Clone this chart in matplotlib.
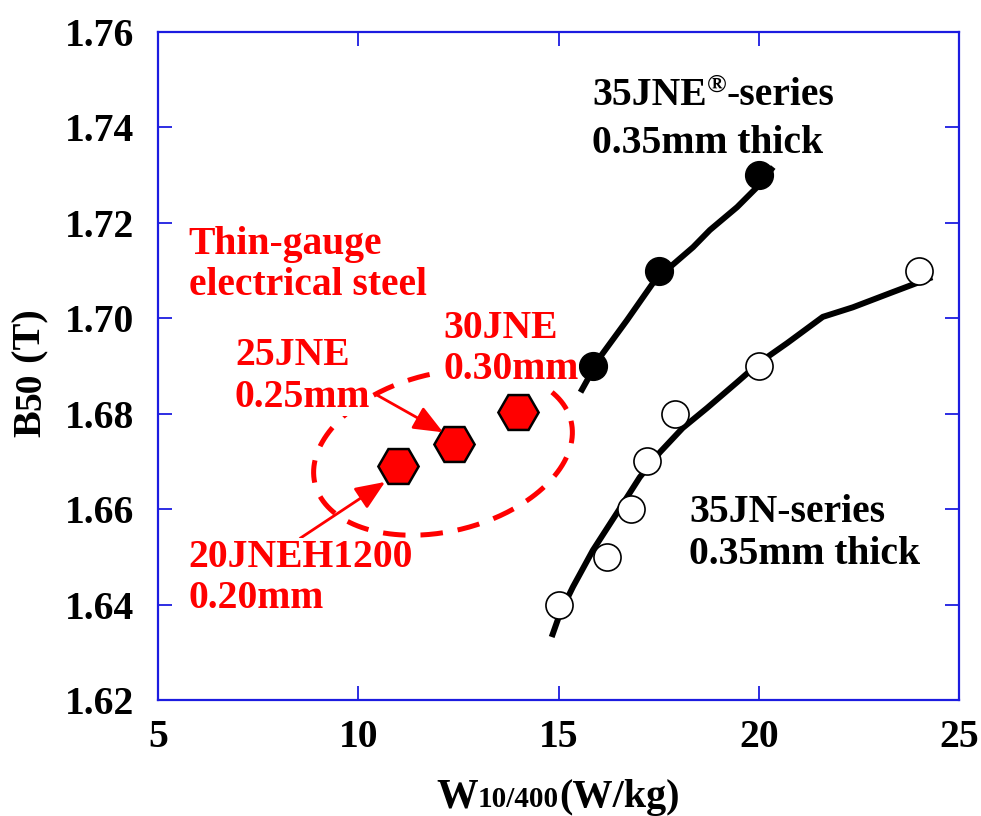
import matplotlib
matplotlib.use('Agg')
import matplotlib.pyplot as plt
import numpy as np

# ---------------- data ----------------
jne_w = [15.85, 17.5, 20.0]
jne_b = [1.690, 1.710, 1.730]
jn_w = [15.0, 16.2, 16.8, 17.2, 17.9, 20.0, 24.0]
jn_b = [1.640, 1.650, 1.660, 1.670, 1.680, 1.690, 1.710]
thin_w = [11.0, 12.4, 14.0]
thin_b = [1.669, 1.6736, 1.6803]

jne_fit_w = [15.55, 16.04, 16.71, 17.36, 17.78, 18.36, 18.78, 19.46, 19.96, 20.36]
jne_fit_b = [1.6845, 1.6919, 1.6996, 1.7074, 1.7107, 1.7149, 1.7185, 1.7233, 1.7275, 1.7317]
jn_fit_w = [14.83, 15.04, 15.36, 15.86, 16.46, 17.03, 17.53, 18.10, 18.71, 19.46,
            20.03, 20.71, 21.60, 22.35, 23.35, 24.33]
jn_fit_b = [1.6332, 1.6382, 1.6437, 1.6514, 1.6592, 1.6667, 1.6719, 1.6770, 1.6812,
            1.6866, 1.6908, 1.6948, 1.7003, 1.7023, 1.7055, 1.7086]

x_ticks = [5, 10, 15, 20, 25]
y_ticks = [1.62, 1.64, 1.66, 1.68, 1.70, 1.72, 1.74, 1.76]

# ---------------- style ----------------
FONT = 'Liberation Serif'
FS = 28.5
BLUE = '#1c1ce0'
RED = '#ff0000'
plt.rcParams['font.family'] = [FONT, 'DejaVu Serif']
plt.rcParams['font.weight'] = 'bold'

W, H = 981, 816
fig = plt.figure(figsize=(W / 100, H / 100), dpi=100)
ax = fig.add_axes([158 / W, 1 - 700 / H, (959 - 158) / W, (700 - 32) / H])

ax.set_xlim(5, 25)
ax.set_ylim(1.62, 1.76)
ax.set_xticks(x_ticks)
ax.set_yticks(y_ticks)
ax.set_xticklabels([str(v) for v in x_ticks])
ax.set_yticklabels(['%.2f' % v for v in y_ticks])
ax.tick_params(axis='both', direction='in', length=10, width=1.3, color=BLUE,
               top=True, right=True, labelsize=FS)
ax.tick_params(axis='y', pad=17)
ax.tick_params(axis='x', pad=14)
for lab in ax.get_xticklabels() + ax.get_yticklabels():
    lab.set_fontweight('bold')
for sp in ax.spines.values():
    sp.set_color(BLUE)
    sp.set_linewidth(1.6)

# fitted curves
ax.plot(jne_fit_w, jne_fit_b, color='black', lw=4.3, solid_capstyle='butt',
        solid_joinstyle='round', zorder=2)
ax.plot(jn_fit_w, jn_fit_b, color='black', lw=4.3, solid_capstyle='butt',
        solid_joinstyle='round', zorder=2)

# measured points
ax.plot(jne_w, jne_b, 'o', ms=20, mfc='black', mec='black', mew=1, zorder=3)
ax.plot(jn_w, jn_b, 'o', ms=19.5, mfc='white', mec='black', mew=1.2, zorder=3)
ax.plot(thin_w, thin_b, 'H', ms=29, mfc=RED, mec='black', mew=1.8, zorder=4)

# dashed ellipse around thin-gauge grades (data units)
cx, cy = 12.116, 1.6719
A = np.array([3.196, 0.0066])
B = np.array([0.472, -0.01606])
t = np.linspace(0, 2 * np.pi, 300)
ex = cx + A[0] * np.cos(t) + B[0] * np.sin(t)
ey = cy + A[1] * np.cos(t) + B[1] * np.sin(t)
ax.plot(ex, ey, color=RED, lw=3.6, dashes=(4.5, 3.0), zorder=1)

# arrows
arrow_kw = dict(arrowstyle='-|>,head_length=0.6,head_width=0.25', color=RED,
                lw=2.0, shrinkA=0, shrinkB=0, mutation_scale=30)
ax.annotate('', xy=(12.12, 1.6761), xytext=(10.47, 1.6839), arrowprops=arrow_kw, zorder=5)
ax.annotate('', xy=(10.67, 1.6657), xytext=(8.55, 1.6539), arrowprops=arrow_kw, zorder=5)

# texts
box = dict(facecolor='white', edgecolor='none', pad=0.5)
ax.text(15.84, 1.7346, '0.35mm thick', fontsize=FS, fontweight='bold', color='black',
        ha='left', va='baseline', zorder=6)
ax.text(18.26, 1.6549, '35JN-series\n0.35mm thick', fontsize=FS,
        fontweight='bold', color='black', ha='left', va='center', linespacing=1.15, zorder=6)
red_texts = [
    (5.77, 1.7112, 'Thin-gauge\nelectrical steel'),
    (12.12, 1.6935, '30JNE\n0.30mm'),
    (6.92, 1.6878, '25JNE\n0.25mm'),
    (5.77, 1.6456, '20JNEH1200\n0.20mm'),
]
for x, y, s in red_texts:
    ax.text(x, y, s, fontsize=FS, fontweight='bold', color=RED, ha='left',
            va='center', linespacing=1.15, bbox=box, zorder=6)

fig.canvas.draw()
r = fig.canvas.get_renderer()

# first line with superscript registered mark
pieces = [('35JNE', FS, 0), ('\u00ae', 19, 13), ('-series', FS, 0)]
xoff = 0.0
for s, size, rise in pieces:
    a = ax.annotate(s, xy=(15.84, 1.7447), xycoords='data', xytext=(xoff, rise * 0.72),
                    textcoords='offset points', fontsize=size, fontweight='bold',
                    ha='left', va='baseline', color='black', zorder=6)
    xoff += a.get_window_extent(r).width * 0.72


def rich(pieces, center, base, vertical=False):
    arts = []
    for s, size in pieces:
        a = fig.text(0, 0, s, fontsize=size, fontweight='bold', ha='left',
                     va='baseline', rotation=90 if vertical else 0,
                     rotation_mode='anchor')
        arts.append(a)
    lens = []
    for a in arts:
        bb = a.get_window_extent(r)
        lens.append(bb.height if vertical else bb.width)
    pos = center - sum(lens) / 2
    for a, L in zip(arts, lens):
        if vertical:
            a.set_position((base / W, pos / H))
        else:
            a.set_position((pos / W, base / H))
        pos += L


rich([('W', 30), ('10/400', 21), ('(W/kg)', 29)], 558, H - 807)
rich([('B', 29), ('50', 27), (' (T)', 29)], H - 373, 40, vertical=True)

fig.savefig('out.png', dpi=100)
